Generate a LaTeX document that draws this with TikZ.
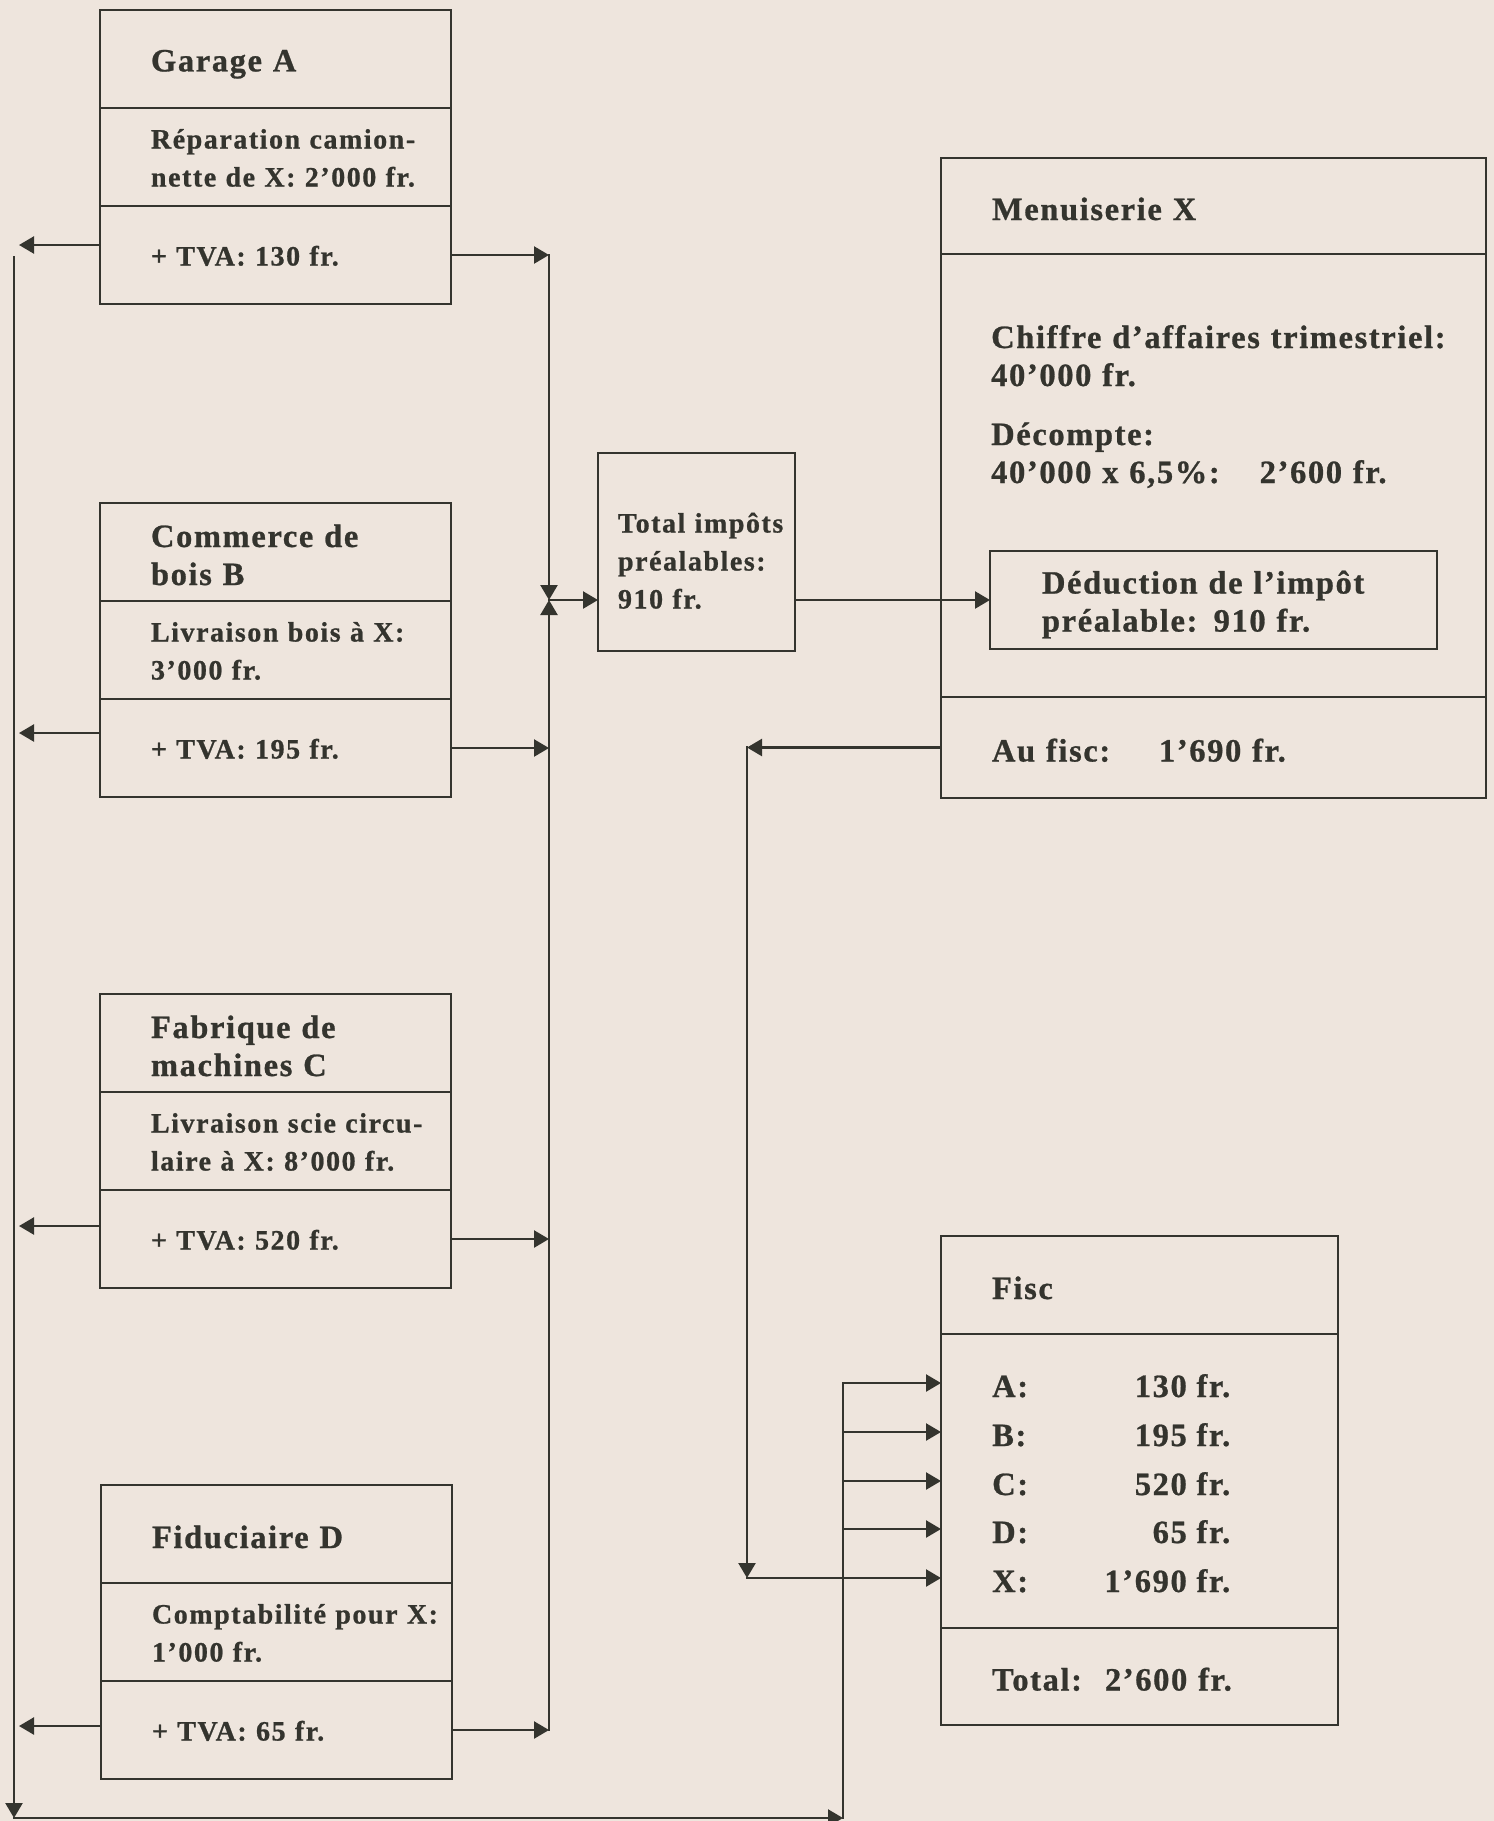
\documentclass[tikz,border=0pt]{standalone}
\usepackage{fontspec}
\setmainfont{Liberation Serif}
\newfontfamily\smallface{Liberation Serif}[LetterSpace=5.5, FakeBold=0.8]
\newfontfamily\bigface{Liberation Serif}[LetterSpace=5, FakeBold=0.8]
\usepackage{xcolor}
\usepackage{tikz}
\usetikzlibrary{arrows.meta,positioning}
\definecolor{paper}{RGB}{238,229,221}
\definecolor{ink}{RGB}{52,52,46}

\begin{document}
\begin{tikzpicture}[
    x=1pt, y=-1pt,
    cell/.style={rectangle, draw=ink, line width=2.8pt, outer sep=0pt, inner xsep=0pt, inner ysep=3pt,
        minimum width=#1, text width=#1, minimum height=98pt, align=left, text=ink,
        execute at begin node={\leftskip=51pt\relax\rightskip=-30pt plus 1fil\relax}},
    cell/.default=351pt,
    big/.style={font=\bigface\bfseries\fontsize{32.5}{38}\selectfont},
    small/.style={font=\smallface\bfseries\fontsize{28}{38}\selectfont},
    bigstrut/.style={execute at begin node={\rule{0pt}{32pt}}, execute at end node={\rule[-4pt]{0pt}{4pt}}},
    smallstrut/.style={execute at begin node={\rule{0pt}{26pt}}, execute at end node={\rule[-5pt]{0pt}{5pt}}},
    txt/.style={text=ink, inner sep=0pt, align=left},
    wire/.style={draw=ink, line width=2.4pt, line cap=rect},
    arrow/.style={wire, -{Triangle[length=15pt, width=17pt]}}
]
\useasboundingbox (0,0) rectangle (1494,1821);
\fill[paper] (0,0) rectangle (1494,1821);

% Suppliers, left column
\node[cell, big, bigstrut] (aT) at (275.5,59) {Garage A};
\node[cell, small, smallstrut, below=0pt of aT] (aD) {Réparation camion-\\nette de X: 2’000 fr.};
\node[cell, small, smallstrut, below=0pt of aD] (aV) {+ TVA: 130 fr.};

\node[cell, big, bigstrut] (bT) at (275.5,552) {Commerce de\\bois B};
\node[cell, small, smallstrut, below=0pt of bT] (bD) {Livraison bois à X:\\3’000 fr.};
\node[cell, small, smallstrut, below=0pt of bD] (bV) {+ TVA: 195 fr.};

\node[cell, big, bigstrut] (cT) at (275.5,1043) {Fabrique de\\machines C};
\node[cell, small, smallstrut, below=0pt of cT] (cD) {Livraison scie circu-\\laire à X: 8’000 fr.};
\node[cell, small, smallstrut, below=0pt of cD] (cV) {+ TVA: 520 fr.};

\node[cell, big, bigstrut] (dT) at (276.5,1534) {Fiduciaire D};
\node[cell, small, smallstrut, below=0pt of dT] (dD) {Comptabilité pour X:\\1’000 fr.};
\node[cell, small, smallstrut, below=0pt of dD] (dV) {+ TVA: 65 fr.};

% Input tax total
\node[cell=197pt, small, smallstrut, minimum height=198pt, execute at begin node={\leftskip=20pt\relax}] (tot) at (696.5,552)
    {\rule{0pt}{42pt}Total impôts\\préalables:\\910 fr.};

% Menuiserie X
\node[cell=545pt, big, bigstrut, minimum height=96pt] (mT) at (1213.5,206) {Menuiserie X};
\node[cell=545pt, minimum height=443pt, below=0pt of mT] (mB) {};
\node[cell=545pt, big, bigstrut, minimum height=101pt, below=0pt of mB] (mF) {\makebox[167pt][l]{Au fisc:}1’690 fr.};
\node[txt, big, text width=490pt, anchor=base west] (mTxt) at (991,348)
    {Chiffre d’affaires trimestriel:\\40’000 fr.\\[21pt]Décompte:\\40’000 x 6,5\%:\hspace{40pt}2’600 fr.};
\node[cell=447pt, big, bigstrut, execute at begin node={\leftskip=52pt\relax}] (ded) at (1213.5,600) {Déduction de l’impôt\\préalable: 910 fr.};

% Fisc
\node[cell=397pt, big, bigstrut] (fT) at (1139.5,1285) {Fisc};
\node[cell=397pt, minimum height=294pt, below=0pt of fT] (fB) {};
\node[cell=397pt, big, bigstrut, minimum height=97pt, below=0pt of fB] (fS) {Total:\hspace{23pt}2’600 fr.};
\node[txt, big, bigstrut, anchor=west] (rA) at (992,1383) {\makebox[90pt][l]{A:}\makebox[148pt][r]{130 fr.}};
\node[txt, big, bigstrut, anchor=west] (rB) at (992,1432) {\makebox[90pt][l]{B:}\makebox[148pt][r]{195 fr.}};
\node[txt, big, bigstrut, anchor=west] (rC) at (992,1481) {\makebox[90pt][l]{C:}\makebox[148pt][r]{520 fr.}};
\node[txt, big, bigstrut, anchor=west] (rD) at (992,1529) {\makebox[90pt][l]{D:}\makebox[148pt][r]{65 fr.}};
\node[txt, big, bigstrut, anchor=west] (rX) at (992,1578) {\makebox[90pt][l]{X:}\makebox[148pt][r]{1’690 fr.}};

% bus lines
\coordinate (lx) at (19,0);
\coordinate (lt) at (14,257);
\coordinate (lb) at (14,1818);
\coordinate (rx) at (549,0);
\coordinate (bx) at (843,1818);
\coordinate (fx) at (747,0);
\coordinate (jn) at (rx |- ded.west);

% TVA to the left
\draw[arrow] ([yshift=10pt]aV.west) -- ([yshift=10pt]aV.west -| lx);
\draw[arrow] ([yshift=15pt]bV.west) -- ([yshift=15pt]bV.west -| lx);
\draw[arrow] ([yshift=13pt]cV.west) -- ([yshift=13pt]cV.west -| lx);
\draw[arrow] ([yshift=4pt]dV.west) -- ([yshift=4pt]dV.west -| lx);
\draw[arrow] (lt) -- (lb);
\draw[arrow] (lb) -- (bx);
\draw[wire] (bx) -- (bx |- rA.west);
\foreach \r in {rA,rB,rC,rD}
    \draw[arrow] (bx |- \r.west) -- (fB.west |- \r.west);

% TVA to the right
\draw[arrow] (aV.east) -- (aV.east -| rx);
\draw[arrow] (bV.east) -- (bV.east -| rx);
\draw[arrow] (cV.east) -- (cV.east -| rx);
\draw[arrow] (dV.east) -- (dV.east -| rx);
\draw[arrow] (aV.east -| rx) -- (jn);
\draw[arrow] (dV.east -| rx) -- (jn);
\draw[arrow] (jn) -- (tot.west |- jn);
\draw[arrow] (tot.east |- ded.west) -- (ded.west);

% Au fisc
\draw[arrow] (mF.west) -- (mF.west -| fx);
\draw[arrow] (mF.west -| fx) -- (fx |- rX.west);
\draw[arrow] (fx |- rX.west) -- (fB.west |- rX.west);
\end{tikzpicture}
\end{document}
